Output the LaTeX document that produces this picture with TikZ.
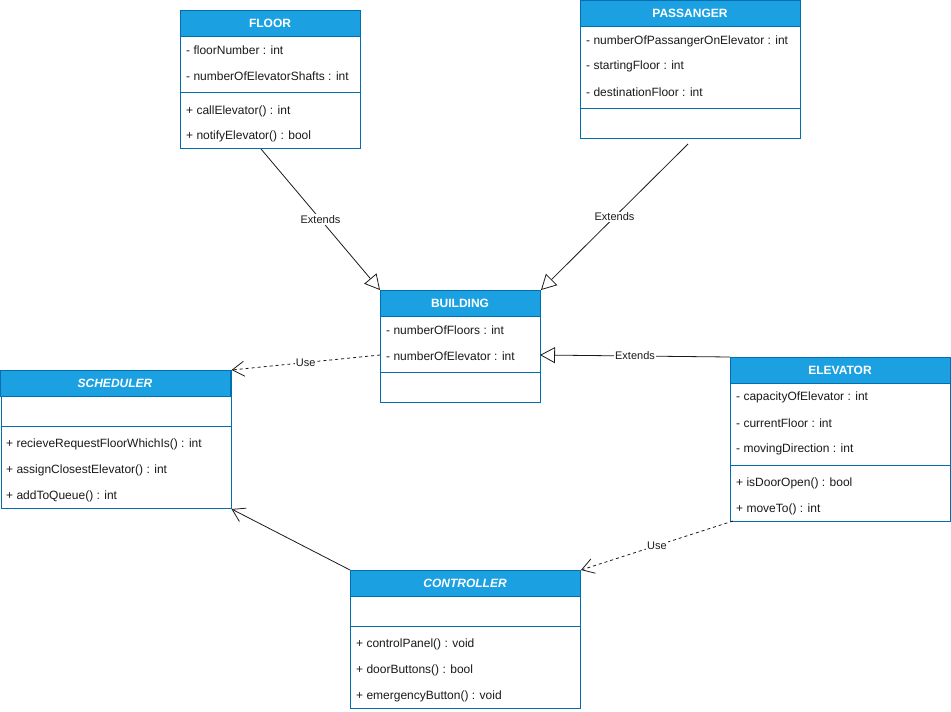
\documentclass[tikz,border=0pt]{standalone}
\usepackage{fontspec}
\setmainfont{Liberation Sans}
\usetikzlibrary{arrows.meta,calc}
\definecolor{hdr}{HTML}{1BA1E2}
\definecolor{edgeblue}{HTML}{006EAF}
\definecolor{txt}{HTML}{1A1A1A}
\tikzset{
  classbox/.style={draw=edgeblue, line width=1pt, fill=white, inner sep=0pt, anchor=north west, rectangle},
  hdrbar/.style={fill=hdr, draw=edgeblue, line width=1pt},
  ctitle/.style={text=white, inner sep=0pt, yshift=-0.5pt, font=\bfseries\fontsize{12}{14}\selectfont},
  ititle/.style={text=white, inner sep=0pt, yshift=-0.5pt, font=\bfseries\itshape\fontsize{12}{14}\selectfont},
  row/.style={anchor=west, inner sep=0pt, yshift=-1pt, text=txt, font=\fontsize{12}{14}\selectfont},
  divider/.style={draw=edgeblue, line width=1pt},
  conn/.style={draw=txt, line width=0.8pt},
  extends/.style={conn, -{Triangle[open, length=15pt, width=16pt, fill=white]}},
  uses/.style={conn, dash pattern=on 3pt off 3pt, -{Straight Barb[length=12pt, width=15pt]}},
  assoc/.style={conn, -{Straight Barb[length=12pt, width=15pt]}},
  lbl/.style={fill=white, inner sep=1pt, text=txt, font=\fontsize{11}{13}\selectfont},
}
\begin{document}
\begin{tikzpicture}[x=1pt, y=-1pt]
\useasboundingbox (0,0) rectangle (951,712);

% FLOOR
\node[classbox, minimum width=180pt, minimum height=138pt] (floor) at (180,10) {};
\draw[hdrbar] (180,10) rectangle (360,36);
\node[ctitle] (floorT) at (270,23) {FLOOR};
\node[row] (f1) at (186,49) {- floorNumber : int};
\node[row] (f2) at (186,75) {- numberOfElevatorShafts : int};
\draw[divider] (180,92) -- (360,92);
\node[row] (f3) at (186,110) {+ callElevator() : int};
\node[row] (f4) at (186,135) {+ notifyElevator() : bool};

% PASSANGER
\node[classbox, minimum width=220pt, minimum height=138pt] (pass) at (580,0) {};
\draw[hdrbar] (580,0.5) rectangle (800,26);
\node[ctitle] (passT) at (690,13) {PASSANGER};
\node[row] (p1) at (586,40) {- numberOfPassangerOnElevator : int};
\node[row] (p2) at (586,65) {- startingFloor : int};
\node[row] (p3) at (586,91) {- destinationFloor : int};
\draw[divider] (580,108) -- (800,108);

% BUILDING
\node[classbox, minimum width=160pt, minimum height=112pt] (bld) at (380,290) {};
\draw[hdrbar] (380,290) rectangle (540,316);
\node[ctitle] (bldT) at (460,303) {BUILDING};
\node[row] (b1) at (386,329) {- numberOfFloors : int};
\node[row] (b2) at (386,355) {- numberOfElevator : int};
\draw[divider] (380,372) -- (540,372);

% SCHEDULER
\node[classbox, minimum width=230pt, minimum height=138pt] (sched) at (0.5,370) {};
\draw[hdrbar] (0.5,370) rectangle (230.5,396);
\node[ititle] (schedT) at (115,383) {SCHEDULER};
\draw[divider] (0.5,426) -- (230.5,426);
\node[row] (s1) at (6,443) {+ recieveRequestFloorWhichIs() : int};
\node[row] (s2) at (6,469) {+ assignClosestElevator() : int};
\node[row] (s3) at (6,495) {+ addToQueue() : int};

% ELEVATOR
\node[classbox, minimum width=220pt, minimum height=164pt] (elev) at (730,357) {};
\draw[hdrbar] (730,357) rectangle (950,383);
\node[ctitle] (elevT) at (840,370) {ELEVATOR};
\node[row] (e1) at (736,396) {- capacityOfElevator : int};
\node[row] (e2) at (736,422) {- currentFloor : int};
\node[row] (e3) at (736,448) {- movingDirection : int};
\draw[divider] (730,465) -- (950,465);
\node[row] (e4) at (736,482) {+ isDoorOpen() : bool};
\node[row] (e5) at (736,508) {+ moveTo() : int};

% CONTROLLER
\node[classbox, minimum width=230pt, minimum height=138pt] (ctrl) at (350,570) {};
\draw[hdrbar] (350,570) rectangle (580,596);
\node[ititle] (ctrlT) at (465,583) {CONTROLLER};
\draw[divider] (350,626) -- (580,626);
\node[row] (c1) at (356,643) {+ controlPanel() : void};
\node[row] (c2) at (356,669) {+ doorButtons() : bool};
\node[row] (c3) at (356,695) {+ emergencyButton() : void};

% connector end points
\coordinate (floorOut) at (261,149);
\coordinate (passOut) at (688,144);
\coordinate (bldE) at (540,355);
\coordinate (bldW) at (380,355);
\coordinate (elevOut) at (733,521);

% connectors
\draw[extends] (floorOut) -- node[lbl] {Extends} (bld.north west);
\draw[extends] (passOut) -- node[lbl] {Extends} (bld.north east);
\draw[extends] (elev.north west) -- node[lbl] {Extends} (bldE);
\draw[uses] (bldW) -- node[lbl] {Use} (sched.north east);
\draw[assoc] (ctrl.north west) -- (sched.south east);
\draw[uses] (elevOut) -- node[lbl] {Use} (ctrl.north east);
\end{tikzpicture}
\end{document}
